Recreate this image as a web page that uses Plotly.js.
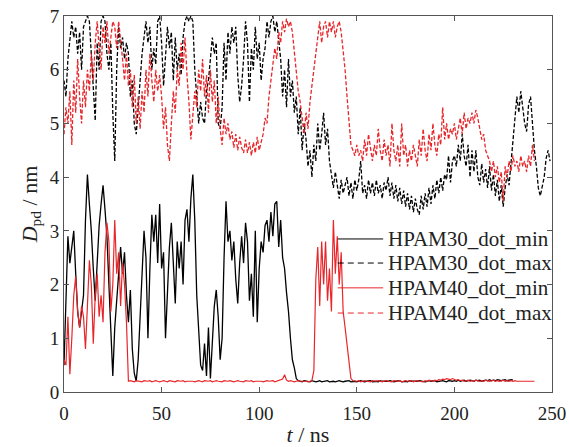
<!DOCTYPE html>
<html>
<head>
<meta charset="utf-8">
<script src="https://cdn.plot.ly/plotly-3.0.1.min.js"></script>
<style>html,body{margin:0;padding:0;background:#fff;}#chart{width:569px;height:447px;}</style>
</head>
<body>
<div id="chart"></div>
<script>
// time step of the sampled series (ns)
const dtNs = 1;

// HPAM30_dot_min (black solid), t = 0..250 ns
const hpam30Min = [
0.5,1.6,2.9,2.4,2.7,3.0,2.2,1.5,1.2,1.5,
1.8,3.2,4.05,3.5,3.0,2.3,1.7,2.4,3.1,3.5,
3.85,3.4,2.9,2.0,1.1,0.3,1.2,1.7,2.2,2.7,
2.2,2.6,1.8,1.3,1.9,0.8,0.35,0.2,0.6,1.5,
2.3,3.0,2.5,1.0,2.3,3.3,2.8,3.3,2.4,3.5,
2.3,2.6,1.0,2.0,2.7,3.15,2.4,1.65,2.8,2.3,
2.8,2.0,3.2,3.4,2.8,3.6,4.05,3.2,1.8,1.0,
0.5,0.4,0.9,0.3,1.2,0.25,1.0,1.6,1.9,1.4,
0.6,1.0,2.5,3.55,2.8,3.0,2.45,2.8,2.1,1.65,
2.4,2.9,2.4,3.15,2.8,1.7,2.2,1.4,3.0,1.3,
2.3,2.8,2.6,3.1,3.2,2.8,3.35,2.9,3.5,3.55,
2.7,3.2,2.5,2.3,1.85,1.5,1.0,0.6,0.45,0.25,
0.21,0.2,0.19,0.21,0.2,0.2,0.19,0.21,0.2,0.19,
0.2,0.21,0.19,0.2,0.2,0.21,0.19,0.2,0.2,0.19,
0.2,0.21,0.2,0.19,0.2,0.2,0.21,0.19,0.2,0.2,
0.19,0.2,0.21,0.2,0.19,0.2,0.2,0.21,0.19,0.2,
0.2,0.19,0.21,0.2,0.2,0.19,0.2,0.21,0.2,0.19,
0.2,0.2,0.21,0.19,0.2,0.2,0.19,0.21,0.2,0.2,
0.19,0.2,0.21,0.2,0.2,0.19,0.2,0.21,0.2,0.2,
0.21,0.19,0.2,0.2,0.21,0.2,0.19,0.21,0.2,0.2,
0.21,0.2,0.22,0.2,0.21,0.22,0.2,0.21,0.22,0.21,
0.2,0.22,0.21,0.22,0.2,0.21,0.22,0.21,0.23,0.21,
0.22,0.21,0.23,0.22,0.21,0.22,0.23,0.21,0.22,0.23,
0.22
];

// HPAM30_dot_max (black dashed), t = 0..249 ns
const hpam30Max = [
5.8,5.5,6.2,6.5,6.9,6.6,6.8,6.3,6.7,6.0,
6.8,6.9,7.0,6.9,6.2,5.6,5.05,6.5,6.0,6.9,
7.0,6.9,6.3,6.0,6.5,5.2,4.3,6.0,6.8,6.4,
6.6,6.2,6.5,6.3,5.5,5.8,5.0,4.8,5.3,5.9,
6.3,6.6,6.9,6.5,6.8,6.0,6.4,6.1,6.9,7.0,
6.5,5.7,6.2,6.8,6.4,6.7,5.8,6.6,6.0,6.3,
5.9,6.6,6.9,7.0,6.9,7.0,6.9,6.0,5.5,5.0,
5.4,5.1,5.0,5.6,5.8,6.2,6.6,6.3,6.5,5.0,
4.9,5.3,6.5,5.8,6.7,6.3,6.8,6.5,6.8,5.9,
5.4,5.7,6.2,6.9,6.5,5.4,6.4,6.0,6.8,6.2,
6.5,5.8,6.2,6.4,6.9,6.6,6.9,7.0,6.7,6.9,
6.6,6.2,5.5,6.0,5.3,6.2,5.5,5.8,5.2,5.5,
4.8,5.3,4.5,5.0,4.7,4.2,4.5,4.0,4.6,4.3,
5.0,4.5,4.8,5.2,4.6,4.9,4.3,4.0,3.8,4.1,
3.8,3.6,3.95,3.7,3.85,4.0,3.65,3.9,3.6,3.95,
3.75,3.95,4.3,3.7,3.85,3.6,3.95,3.7,3.9,3.65,
3.95,3.7,3.85,3.6,3.9,3.75,4.0,3.65,3.9,3.6,
3.85,3.55,3.8,3.5,3.75,3.45,3.7,3.4,3.65,3.35,
3.6,3.4,3.3,3.65,3.4,3.7,3.45,3.8,3.5,3.85,
3.6,3.95,3.7,4.0,3.75,4.05,3.95,4.4,3.9,4.3,
4.4,4.2,4.6,4.3,4.8,4.4,4.2,4.6,4.0,4.5,
4.1,4.5,4.0,3.85,4.25,3.9,4.15,3.8,4.2,3.75,
4.05,3.65,3.95,3.55,3.85,3.45,3.8,4.05,3.85,4.25,
4.8,5.2,5.5,5.2,5.6,5.3,5.0,4.85,5.35,5.5,
5.0,4.5,4.2,3.8,3.65,3.85,4.0,4.35,4.5,4.3
];

// HPAM40_dot_min (red solid), t = 0..241 ns
const hpam40Min = [
0.6,0.5,1.4,0.33,1.0,1.8,2.15,1.5,1.2,1.6,
1.4,0.8,1.6,2.45,2.0,0.9,1.8,2.2,1.4,1.8,
1.3,2.6,3.15,2.8,1.5,2.0,3.2,2.2,2.6,1.6,
2.4,2.0,1.3,0.2,0.21,0.2,0.19,0.21,0.2,0.2,
0.19,0.21,0.2,0.2,0.21,0.19,0.2,0.21,0.2,0.19,
0.2,0.21,0.2,0.19,0.21,0.2,0.2,0.19,0.21,0.2,
0.2,0.21,0.19,0.2,0.2,0.21,0.2,0.19,0.2,0.21,
0.2,0.19,0.21,0.2,0.2,0.21,0.19,0.2,0.21,0.2,
0.2,0.19,0.21,0.2,0.2,0.21,0.2,0.19,0.2,0.21,
0.2,0.2,0.19,0.21,0.2,0.2,0.21,0.19,0.2,0.2,
0.21,0.2,0.19,0.2,0.21,0.2,0.2,0.21,0.19,0.2,
0.21,0.22,0.24,0.32,0.22,0.2,0.21,0.2,0.19,0.2,
0.21,0.2,0.2,0.21,0.2,0.19,0.2,0.21,0.4,2.1,
2.7,1.6,2.8,2.0,2.8,1.7,2.3,1.5,3.2,2.2,
2.9,2.0,2.6,1.5,1.2,0.9,0.5,0.25,0.21,0.2,
0.2,0.21,0.19,0.2,0.21,0.2,0.2,0.19,0.21,0.2,
0.2,0.21,0.2,0.19,0.2,0.21,0.2,0.2,0.19,0.21,
0.2,0.2,0.21,0.19,0.2,0.21,0.2,0.2,0.21,0.19,
0.2,0.21,0.2,0.2,0.19,0.21,0.2,0.22,0.21,0.2,
0.22,0.21,0.23,0.22,0.24,0.23,0.25,0.24,0.23,0.25,
0.24,0.22,0.23,0.21,0.22,0.2,0.21,0.22,0.2,0.21,
0.2,0.22,0.21,0.2,0.21,0.2,0.22,0.21,0.2,0.21,
0.22,0.2,0.21,0.2,0.21,0.22,0.2,0.21,0.2,0.21,
0.2,0.21,0.2,0.2,0.21,0.2,0.2,0.21,0.2,0.2,
0.21,0.2
];

// HPAM40_dot_max (red dashed), t = 0..241 ns
const hpam40Max = [
4.8,5.3,5.0,5.6,4.6,5.8,5.2,6.2,5.5,5.0,
5.8,5.3,6.0,5.6,6.3,5.8,6.5,6.9,6.4,6.0,
6.8,6.5,6.9,6.3,6.6,6.9,6.8,6.4,6.9,6.6,
6.2,5.8,6.3,5.7,6.0,5.3,5.9,5.0,5.5,4.9,
5.6,5.2,6.0,5.5,6.3,5.8,5.4,6.0,5.6,5.9,
5.5,4.9,5.3,4.6,4.3,5.0,5.6,5.2,6.0,5.7,
6.5,6.0,6.6,5.9,5.4,4.7,5.2,5.6,5.3,6.0,
5.6,6.2,5.5,5.9,5.2,6.0,5.4,5.8,5.0,5.5,
4.9,4.6,5.1,4.8,5.0,4.7,4.85,4.55,4.8,4.5,
4.75,4.55,4.45,4.7,4.45,4.65,4.4,4.65,4.45,4.75,
4.5,4.65,4.8,5.1,5.0,5.5,5.8,6.0,6.4,6.2,
6.7,6.5,6.9,6.7,6.95,6.8,6.9,6.7,6.3,6.0,
5.6,5.4,5.1,4.8,5.2,4.9,5.4,5.7,5.9,6.2,
6.6,6.9,6.5,6.8,6.9,6.6,6.9,6.7,6.9,6.6,
6.8,6.9,6.7,6.4,6.0,5.5,5.0,4.6,4.5,4.4,
4.6,4.4,4.5,4.3,4.7,4.4,4.8,4.5,4.3,4.6,
4.4,4.9,4.5,4.3,4.7,4.4,4.6,4.2,5.0,4.5,
4.3,4.6,4.2,5.0,4.4,4.6,4.2,4.5,4.3,4.6,
4.4,4.2,4.7,4.4,4.9,4.5,4.3,4.8,4.5,5.0,
4.6,4.4,4.8,4.6,5.3,4.7,5.0,4.7,4.9,4.8,
5.0,4.7,4.9,5.1,4.8,5.2,4.9,5.1,5.0,5.2,
5.0,5.25,5.1,4.9,4.7,4.8,4.5,4.4,4.3,4.1,
4.3,4.0,4.2,3.9,4.1,3.55,4.2,4.0,4.3,4.1,
4.4,4.2,4.3,4.1,4.4,4.2,4.3,4.1,4.4,4.2,
4.6,4.3
];

const seriesNames = ['HPAM30_dot_min', 'HPAM30_dot_max', 'HPAM40_dot_min', 'HPAM40_dot_max'];
const xTickVals = [0, 50, 100, 150, 200, 250];
const xTickText = ['0', '50', '100', '150', '200', '250'];
const yTickVals = [0, 1, 2, 3, 4, 5, 6, 7];
const yTickText = ['0', '1', '2', '3', '4', '5', '6', '7'];

const timeOf = arr => arr.map((_, i) => i * dtNs);
const BLACK = '#000000', RED = '#e8262a';
const serif = 'Liberation Serif';
const DASH = '4px,2px';

const styles = [
  {color: BLACK, width: 1.3},
  {color: BLACK, width: 1.3, dash: DASH},
  {color: RED, width: 1.2},
  {color: RED, width: 1.3, dash: DASH}
];
const data = [hpam30Min, hpam30Max, hpam40Min, hpam40Max];

const traces = data.map((arr, i) => ({
  x: timeOf(arr), y: arr, name: seriesNames[i], mode: 'lines',
  line: styles[i], showlegend: false
}));

// legend drawn in the style of the original (long key lines, tight rows)
const legendRowsY = [0.407, 0.343, 0.277, 0.210];
const shapes = [], annotations = [];
seriesNames.forEach((nm, i) => {
  shapes.push({type: 'line', xref: 'paper', yref: 'paper',
    x0: 0.561, x1: 0.654, y0: legendRowsY[i], y1: legendRowsY[i],
    line: {color: styles[i].color, width: 1, dash: styles[i].dash ? '6px,4px' : 'solid'}});
  annotations.push({xref: 'paper', yref: 'paper', x: 0.660, y: legendRowsY[i],
    xanchor: 'left', yanchor: 'middle', showarrow: false, text: nm,
    font: {family: serif, size: 21, color: '#222'}});
});

const axisCommon = () => ({
  showline: true, linecolor: '#555', linewidth: 1, mirror: 'ticks',
  ticks: 'inside', ticklen: 5, tickcolor: '#555', tickwidth: 1,
  showgrid: false, zeroline: false, tickmode: 'array',
  tickfont: {family: serif, size: 19, color: '#222'}
});

const layout = {
  width: 569, height: 447,
  font: {family: serif, size: 19, color: '#222'},
  margin: {l: 64, r: 17, t: 16, b: 55},
  paper_bgcolor: '#fff', plot_bgcolor: '#fff',
  showlegend: false,
  shapes: shapes, annotations: annotations,
  xaxis: Object.assign(axisCommon(), {
    range: [0, 250], tickvals: xTickVals, ticktext: xTickText, ticklabelstandoff: 4,
    title: {text: '<i>t</i> / ns', font: {family: serif, size: 22, color: '#222'}, standoff: 4}
  }),
  yaxis: Object.assign(axisCommon(), {
    range: [0, 7], tickvals: yTickVals, ticktext: yTickText,
    title: {text: '<i>D</i><sub>pd</sub> / nm', font: {family: serif, size: 22, color: '#222'}, standoff: 6}
  })
};

Plotly.newPlot('chart', traces, layout, {staticPlot: true, displayModeBar: false});
</script>
</body>
</html>
